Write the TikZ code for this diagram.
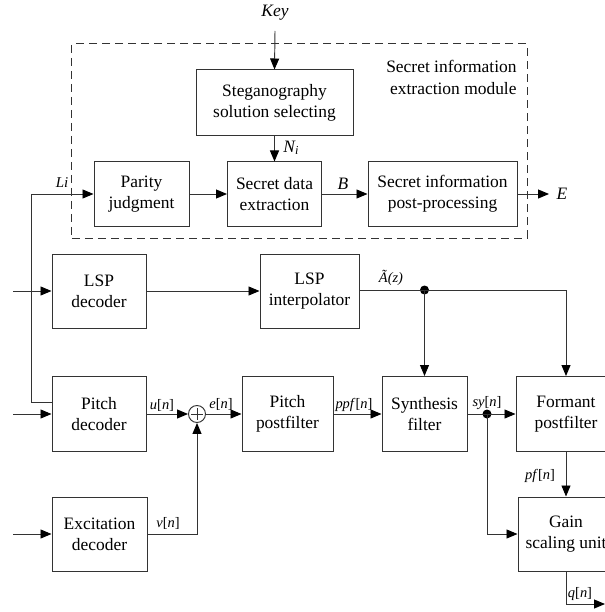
\documentclass[tikz,border=0pt]{standalone}
\usepackage{fontspec}
\setmainfont{Liberation Serif}
\usetikzlibrary{arrows.meta}
\newcommand\sigl[1]{\textit{#1}[\textit{n}]}
\begin{document}
\begin{tikzpicture}[x=1bp,y=-1bp,
  line width=0.95bp, draw=black!80,
  box/.style={draw=black!80, line width=1bp, align=center, inner sep=0pt, font=\fontsize{17.5}{21}\selectfont},
  lbl/.style={inner sep=0pt, font=\fontsize{14.5}{16}\selectfont},
  big/.style={inner sep=0pt, font=\fontsize{17.5}{20}\selectfont\itshape},
  arr/.style={-{Triangle[length=11bp,width=9bp,color=black,fill=black]}},
  dotnode/.style={circle, fill=black, inner sep=0pt, minimum size=9bp}]
\useasboundingbox (0,0) rectangle (605,612);
\clip (0,0) rectangle (605,612);
% module frame
\node[draw=black!80, dash pattern=on 8bp off 5bp, line width=1bp, minimum width=455bp, minimum height=194bp, inner sep=0pt] (module) at (299.5,141) {};
\node[anchor=north east, align=right, inner sep=0pt, font=\fontsize{17.5}{22}\selectfont] (modlbl) at (517,59.5) {Secret information\\extraction module};
% boxes
\node[box, minimum width=157bp, minimum height=66bp] (steg) at (274.5,103) {Steganography\\solution selecting};
\node[box, minimum width=95bp, minimum height=64bp] (parity) at (141.5,194) {Parity\\judgment};
\node[box, minimum width=94bp, minimum height=64bp] (sdata) at (274.5,194) {Secret data\\extraction};
\node[box, minimum width=149bp, minimum height=64bp] (post) at (442.5,194) {Secret information\\post-processing};
\node[box, minimum width=94bp, minimum height=74bp] (lspdec) at (99,291) {LSP\\decoder};
\node[box, minimum width=99bp, minimum height=74bp] (lspint) at (309.5,291) {LSP\\interpolator};
\node[box, minimum width=94bp, minimum height=75bp] (pitch) at (99,414) {Pitch\\decoder};
\node[box, minimum width=91bp, minimum height=75bp] (ppost) at (287.5,414) {Pitch\\postfilter};
\node[box, minimum width=85bp, minimum height=75bp] (synth) at (424.5,414) {Synthesis\\filter};
\node[box, minimum width=100bp, minimum height=75bp] (formant) at (566,414) {Formant\\postfilter};
\node[box, minimum width=95bp, minimum height=74bp] (exc) at (99.5,534) {Excitation\\decoder};
\node[box, minimum width=96bp, minimum height=74bp] (gain) at (566,534) {Gain\\scaling unit};
\node[draw=black!80, line width=0.95bp, circle, minimum size=17bp, inner sep=0pt] (sum) at (197,414) {};
\draw[line width=0.9bp] (sum.center) ++(-6,0) -- ++(12,0) (sum.center) ++(0,-6) -- ++(0,12);
% coordinates
\coordinate (keyend) at (275,31);
\coordinate (eend) at (549,194);
\coordinate (in1) at (13,291);
\coordinate (in2) at (13,414);
\coordinate (in3) at (13,534);
\coordinate (qend) at (605,604);
\node[dotnode] (d1) at (424.5,290) {};
\node[dotnode] (d2) at (487,414) {};
% labels
\node[big] (key) at (275,13) {Key};
\node[big, anchor=west] (ni) at (283,148) {N\textsubscript{i}};
\node[big] (li) at (62,183) {\fontsize{15}{15}\selectfont Li};
\node[big] (bl) at (343,184) {B};
\node[big] (el) at (562,194) {E};
\node[lbl] (al) at (391,278) {\textit{Ã(z)}};
\node[lbl] (ul) at (162,405) {\sigl{u}};
\node[lbl] (el2) at (221,404) {\sigl{e}};
\node[lbl] (ppfl) at (354,405) {\sigl{ppf}};
\node[lbl] (syl) at (487,403) {\sigl{sy}};
\node[lbl] (vl) at (168,523) {\sigl{v}};
\node[lbl] (pfl) at (540,476) {\sigl{pf}};
\node[lbl] (ql) at (580,594) {\sigl{q}};
% connectors
\draw[arr] (keyend) -- (steg.north);
\draw[arr] (steg.south) -- (sdata.north);
\draw[arr] ([yshift=12bp]pitch.west) -- ++(-20,0) |- (parity.west);
\draw[arr] (parity.east) -- (sdata.west);
\draw[arr] (sdata.east) -- (post.west);
\draw[arr] (post.east) -- (eend);
\draw[arr] (in1) -- (lspdec.west);
\draw[arr] (in2) -- (pitch.west);
\draw[arr] (in3) -- (exc.west);
\draw[arr] (lspdec.east) -- (lspint.west);
\draw (lspint.east |- d1) -- (d1.center);
\draw[arr] (d1.center) -| (formant.north);
\draw[arr] (d1.center) -- (synth.north);
\draw[arr] (pitch.east) -- (sum.west);
\draw[arr] (sum.east) -- (ppost.west);
\draw[arr] (exc.east) -| (sum.south);
\draw[arr] (ppost.east) -- (synth.west);
\draw[arr] (synth.east) -- (formant.west);
\draw[arr] (d2.center) |- (gain.west);
\draw[arr] (formant.south) -- (gain.north);
\draw[arr] (gain.south) |- (qend);
\end{tikzpicture}
\end{document}
